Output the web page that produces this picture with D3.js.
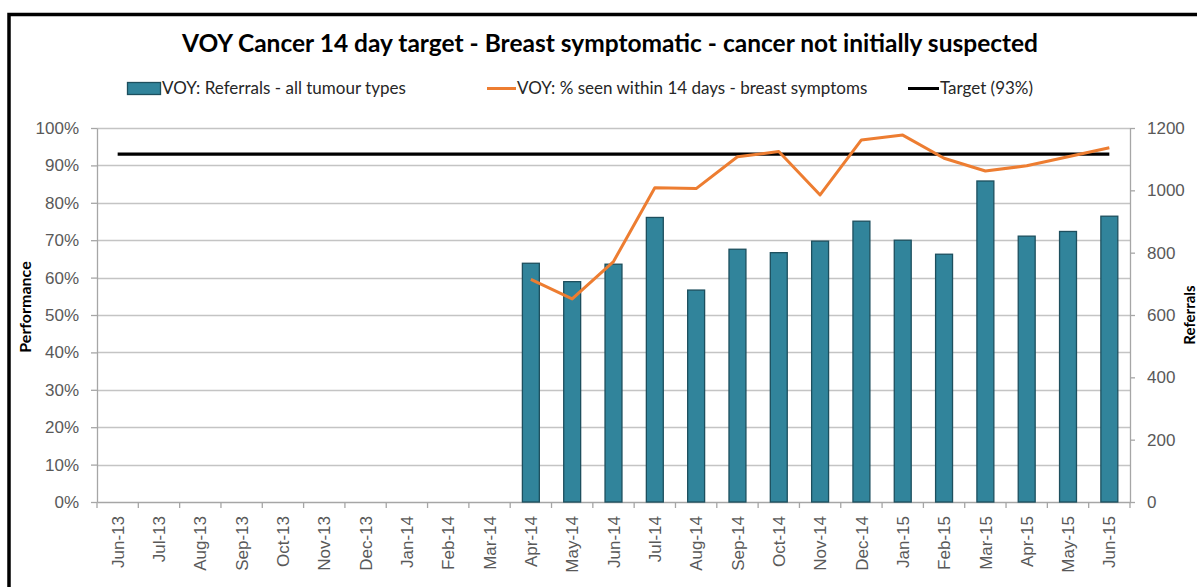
<!DOCTYPE html>
<html>
<head>
<meta charset="utf-8">
<script src="https://cdn.jsdelivr.net/npm/d3@7"></script>
<style>
  body { margin: 0; background: #fff; }
  svg { display: block; font-family: Lato, "Open Sans", sans-serif; }
  .tickText { fill: #595959; font-size: 17px; }
  .legendText { fill: #262626; font-size: 17px; }
</style>
</head>
<body>
<svg id="chart" width="1197" height="587"></svg>
<script>
const months = ["Jun-13", "Jul-13", "Aug-13", "Sep-13", "Oct-13", "Nov-13", "Dec-13",
  "Jan-14", "Feb-14", "Mar-14", "Apr-14", "May-14", "Jun-14", "Jul-14", "Aug-14",
  "Sep-14", "Oct-14", "Nov-14", "Dec-14", "Jan-15", "Feb-15", "Mar-15", "Apr-15",
  "May-15", "Jun-15"];

const referrals = [null, null, null, null, null, null, null, null, null, null,
  766, 707, 763, 913, 680, 811, 800, 837, 901, 840, 795, 1030, 853, 868, 917];

const performance = [null, null, null, null, null, null, null, null, null, null,
  0.595, 0.543, 0.643, 0.840, 0.838, 0.923, 0.937, 0.821, 0.968, 0.981, 0.919,
  0.885, 0.899, 0.923, 0.947];

const target = months.map(() => 0.93);

const pctTicks = [0, 0.1, 0.2, 0.3, 0.4, 0.5, 0.6, 0.7, 0.8, 0.9, 1];
const refTicks = [0, 200, 400, 600, 800, 1000, 1200];

const titleText = "VOY Cancer 14 day target - Breast symptomatic - cancer not initially suspected";
const barName = "VOY: Referrals - all tumour types";
const lineName = "VOY: % seen within 14 days - breast symptoms";
const targetName = "Target (93%)";

const barColor = "#31849b";
const barStroke = "#1d4f5e";
const lineColor = "#ed7d31";
const gridColor = "#c4c4c4";
const axisColor = "#a6a6a6";

const plotLeft = 97;
const plotRight = 1130;
const plotTop = 128;
const plotBottom = 502;

let svg = d3.select("#chart");

// outer frame
svg
  .append("rect")
  .attr("x", 9)
  .attr("y", 14.5)
  .attr("width", 1230)
  .attr("height", 620)
  .attr("fill", "none")
  .attr("stroke", "#000")
  .attr("stroke-width", 3.5);

let x = d3.scaleBand().domain(months).range([plotLeft, plotRight]).padding(0);
let yPct = d3.scaleLinear().domain([0, 1]).range([plotBottom, plotTop]);
let yRef = d3.scaleLinear().domain([0, 1200]).range([plotBottom, plotTop]);

// gridlines
svg
  .append("g")
  .selectAll("line")
  .data(pctTicks.slice(1))
  .join("line")
  .attr("x1", plotLeft)
  .attr("x2", plotRight)
  .attr("y1", (d) => Math.round(yPct(d)) + 0.5)
  .attr("y2", (d) => Math.round(yPct(d)) + 0.5)
  .attr("stroke", gridColor)
  .attr("stroke-width", 1.3);

// left axis
let leftAxis = svg
  .append("g")
  .attr("transform", `translate(${plotLeft},0)`)
  .call(d3.axisLeft(yPct).tickValues(pctTicks).tickFormat(d3.format(".0%")).tickSize(6).tickSizeOuter(0).tickPadding(12));

// right axis
let rightAxis = svg
  .append("g")
  .attr("transform", `translate(${plotRight},0)`)
  .call(d3.axisRight(yRef).tickValues(refTicks).tickFormat(d3.format("d")).tickSize(5).tickSizeOuter(0).tickPadding(12));

// bottom axis
let bottomAxis = svg
  .append("g")
  .attr("transform", `translate(0,${plotBottom})`)
  .call(d3.axisBottom(x).tickSize(0).tickPadding(0));

[leftAxis, rightAxis, bottomAxis].forEach((g) => {
  g.select(".domain").attr("stroke", axisColor).attr("stroke-width", 1.3);
  g.selectAll(".tick line").attr("stroke", axisColor).attr("stroke-width", 1.3);
  g.selectAll("text").attr("class", "tickText").attr("font-family", null).attr("font-size", null);
});

bottomAxis
  .selectAll(".tick text")
  .attr("text-anchor", "end")
  .attr("transform", "rotate(-90)")
  .attr("x", -14)
  .attr("y", 0)
  .attr("dy", "0.36em");

// category boundary ticks
svg
  .append("g")
  .selectAll("line")
  .data(months.concat(["end"]))
  .join("line")
  .attr("x1", (d, i) => plotLeft + i * x.step())
  .attr("x2", (d, i) => plotLeft + i * x.step())
  .attr("y1", plotBottom)
  .attr("y2", plotBottom + 6)
  .attr("stroke", axisColor)
  .attr("stroke-width", 1.3);

// bars
const barW = x.bandwidth() * 0.41;
svg
  .append("g")
  .selectAll("rect")
  .data(months.map((m, i) => ({ m, v: referrals[i] })).filter((d) => d.v !== null))
  .join("rect")
  .attr("x", (d) => x(d.m) + (x.bandwidth() - barW) / 2)
  .attr("y", (d) => yRef(d.v))
  .attr("width", barW)
  .attr("height", (d) => plotBottom - yRef(d.v))
  .attr("fill", barColor)
  .attr("stroke", barStroke)
  .attr("stroke-width", 1.3);

// target line
let line = d3
  .line()
  .defined((d) => d.v !== null)
  .x((d) => x(d.m) + x.bandwidth() / 2)
  .y((d) => yPct(d.v));

svg
  .append("path")
  .datum(months.map((m, i) => ({ m, v: target[i] })))
  .attr("d", line)
  .attr("fill", "none")
  .attr("stroke", "#000")
  .attr("stroke-width", 3.2);

svg
  .append("path")
  .datum(months.map((m, i) => ({ m, v: performance[i] })))
  .attr("d", line)
  .attr("fill", "none")
  .attr("stroke", lineColor)
  .attr("stroke-width", 3)
  .attr("stroke-linejoin", "round");

// title
svg
  .append("text")
  .text(titleText)
  .attr("x", 610)
  .attr("y", 52)
  .attr("text-anchor", "middle")
  .attr("font-size", 24.5)
  .attr("font-weight", "bold")
  .attr("fill", "#000");

// legend
svg
  .append("rect")
  .attr("x", 127.5)
  .attr("y", 82.5)
  .attr("width", 33)
  .attr("height", 12)
  .attr("fill", barColor)
  .attr("stroke", barStroke)
  .attr("stroke-width", 1.3);
svg.append("text").text(barName).attr("class", "legendText").attr("x", 162).attr("y", 94);

svg
  .append("line")
  .attr("x1", 487)
  .attr("x2", 516)
  .attr("y1", 88.5)
  .attr("y2", 88.5)
  .attr("stroke", lineColor)
  .attr("stroke-width", 3);
svg.append("text").text(lineName).attr("class", "legendText").attr("x", 517).attr("y", 94);

svg
  .append("line")
  .attr("x1", 908)
  .attr("x2", 939)
  .attr("y1", 88.5)
  .attr("y2", 88.5)
  .attr("stroke", "#000")
  .attr("stroke-width", 3);
svg.append("text").text(targetName).attr("class", "legendText").attr("x", 940).attr("y", 94);

// axis titles
svg
  .append("text")
  .text("Performance")
  .attr("transform", "translate(31,307) rotate(-90)")
  .attr("text-anchor", "middle")
  .attr("font-size", 16)
  .attr("font-weight", "bold")
  .attr("fill", "#000");

svg
  .append("text")
  .text("Referrals")
  .attr("transform", "translate(1195,315) rotate(-90)")
  .attr("text-anchor", "middle")
  .attr("font-size", 15)
  .attr("font-weight", "bold")
  .attr("fill", "#000");
</script>
</body>
</html>
